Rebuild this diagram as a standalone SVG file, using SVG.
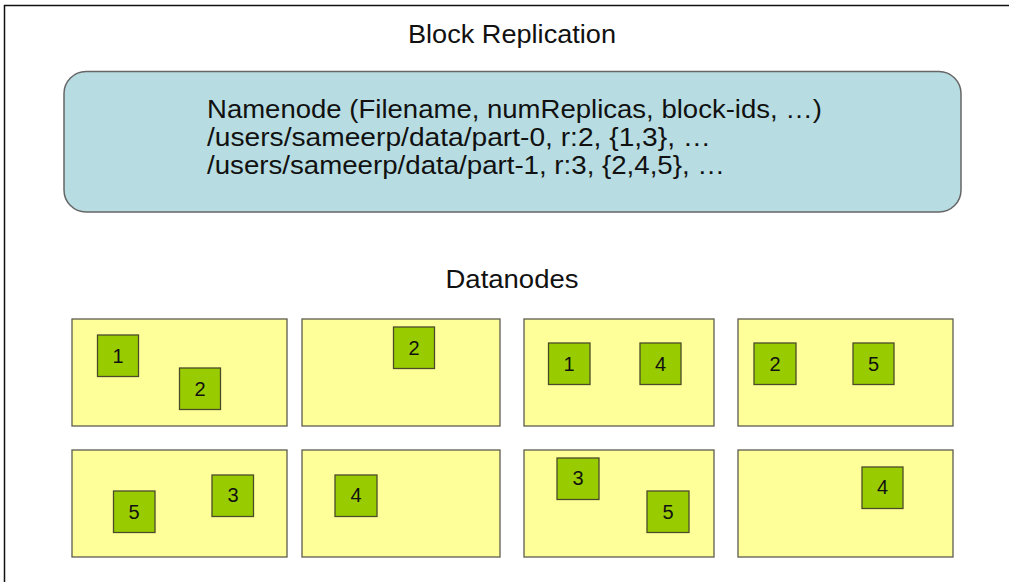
<svg xmlns="http://www.w3.org/2000/svg" width="1009" height="582" viewBox="0 0 1009 582">
  <style>
    text { font-family: "Liberation Sans", Arial, sans-serif; fill: #111; }
    .title { font-size: 25px; text-anchor: middle; }
    .nn { font-size: 25px; }
    .dn { fill: #ffff99; stroke: #5c5c50; stroke-width: 1.3; }
    .blk { fill: #99cc00; stroke: #4a4a2a; stroke-width: 1.3; }
    .num { font-size: 20px; text-anchor: middle; }
  </style>
  <rect width="1009" height="582" fill="#ffffff"/>
  <!-- frame -->
  <path d="M4.5 582 V5.5 H1009" fill="none" stroke="#111" stroke-width="1.5"/>

  <text class="title" x="512" y="43" textLength="208" lengthAdjust="spacingAndGlyphs">Block Replication</text>

  <g id="namenode">
    <rect x="64" y="71.5" width="897" height="140.5" rx="22" fill="#b7dde2" stroke="#666" stroke-width="1.5"/>
    <text class="nn" x="207" y="118" textLength="615" lengthAdjust="spacingAndGlyphs">Namenode (Filename, numReplicas, block-ids, …)</text>
    <text class="nn" x="207" y="146" textLength="504" lengthAdjust="spacingAndGlyphs">/users/sameerp/data/part-0, r:2, {1,3}, …</text>
    <text class="nn" x="207" y="174" textLength="518" lengthAdjust="spacingAndGlyphs">/users/sameerp/data/part-1, r:3, {2,4,5}, …</text>
  </g>

  <text class="title" x="512" y="288" font-size="24.5" textLength="133" lengthAdjust="spacingAndGlyphs">Datanodes</text>

  <g id="dn1">
    <rect class="dn" x="72" y="319" width="215" height="107"/>
    <rect class="blk" x="97.5" y="335" width="41" height="41.5"/><text class="num" x="118" y="363">1</text>
    <rect class="blk" x="179.5" y="368" width="41" height="41.5"/><text class="num" x="200" y="396">2</text>
  </g>
  <g id="dn2">
    <rect class="dn" x="302" y="319" width="198" height="107"/>
    <rect class="blk" x="393.5" y="327" width="41" height="41.5"/><text class="num" x="414" y="355">2</text>
  </g>
  <g id="dn3">
    <rect class="dn" x="524" y="319" width="190" height="107"/>
    <rect class="blk" x="548.5" y="343" width="41.5" height="41.5"/><text class="num" x="569" y="371">1</text>
    <rect class="blk" x="640" y="343" width="41" height="41.5"/><text class="num" x="660.5" y="371">4</text>
  </g>
  <g id="dn4">
    <rect class="dn" x="738" y="319" width="215" height="107"/>
    <rect class="blk" x="754" y="343" width="42" height="41.5"/><text class="num" x="775" y="371">2</text>
    <rect class="blk" x="853" y="343" width="41" height="41.5"/><text class="num" x="873.5" y="371">5</text>
  </g>
  <g id="dn5">
    <rect class="dn" x="72" y="450" width="215" height="107"/>
    <rect class="blk" x="113.5" y="491" width="41.5" height="41.5"/><text class="num" x="134" y="519">5</text>
    <rect class="blk" x="212" y="475" width="41.5" height="41.5"/><text class="num" x="233" y="502">3</text>
  </g>
  <g id="dn6">
    <rect class="dn" x="302" y="450" width="198" height="107"/>
    <rect class="blk" x="335" y="475" width="42" height="41.5"/><text class="num" x="356" y="502">4</text>
  </g>
  <g id="dn7">
    <rect class="dn" x="524" y="450" width="190" height="107"/>
    <rect class="blk" x="557" y="458" width="42" height="41.5"/><text class="num" x="578" y="485">3</text>
    <rect class="blk" x="647" y="491" width="42" height="41.5"/><text class="num" x="668" y="519">5</text>
  </g>
  <g id="dn8">
    <rect class="dn" x="738" y="450" width="215" height="107"/>
    <rect class="blk" x="862" y="467" width="41" height="41.5"/><text class="num" x="882.5" y="494">4</text>
  </g>
  <g id="connectors"></g>
</svg>
